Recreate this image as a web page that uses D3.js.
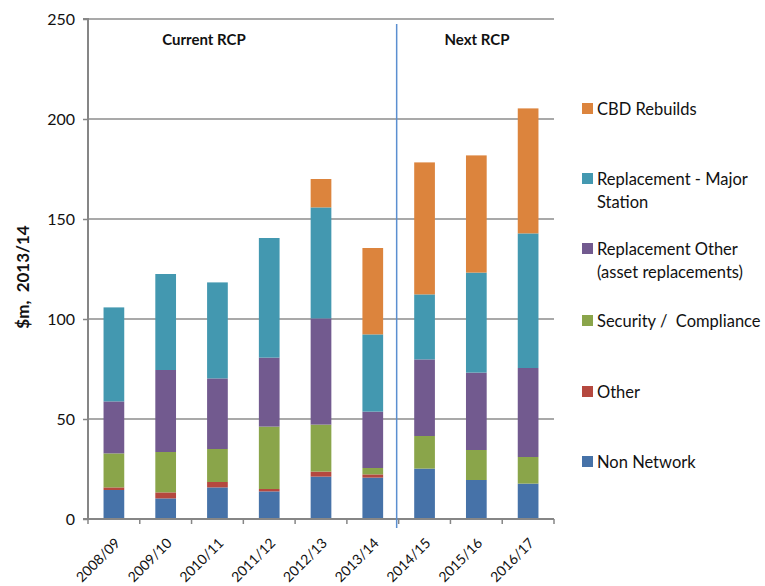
<!DOCTYPE html>
<html>
<head>
<meta charset="utf-8">
<script src="https://cdn.jsdelivr.net/npm/d3@7/dist/d3.min.js"></script>
<style>
  html, body { margin: 0; padding: 0; background: #fff; }
  svg { display: block; font-family: Lato, "Open Sans", sans-serif; }
  text { white-space: pre; }
</style>
</head>
<body>
<svg id="chart" width="765" height="586"></svg>
<script>
// Capital expenditure by category, $m (2013/14 dollars)
const years = ["2008/09", "2009/10", "2010/11", "2011/12", "2012/13", "2013/14", "2014/15", "2015/16", "2016/17"];

const nonNetwork   = [14.5, 10.3, 15.8, 13.8, 21.2, 20.7, 25.2, 19.5, 17.7];
const other        = [1.3, 3.0, 2.7, 1.2, 2.5, 1.6, 0, 0, 0];
const security     = [17.0, 20.2, 16.5, 31.2, 23.5, 3.2, 16.3, 15.0, 13.3];
const replOther    = [26.0, 41.0, 35.3, 34.5, 53.1, 28.2, 38.3, 38.7, 44.5];
const replMajor    = [47.0, 48.0, 48.0, 59.8, 55.5, 38.6, 32.5, 50.0, 67.3];
const cbdRebuilds  = [0, 0, 0, 0, 14.2, 43.2, 66.0, 58.6, 62.5];

const yTicks = [0, 50, 100, 150, 200, 250];

// Stacking order from the axis upwards
const seriesNames = ["Non Network", "Other", "Security / Compliance",
                     "Replacement Other (asset replacements)", "Replacement - Major Station", "CBD Rebuilds"];
const seriesValues = [nonNetwork, other, security, replOther, replMajor, cbdRebuilds];
const seriesColors = ["#4672a8", "#b5483f", "#8aa54a", "#725a8f", "#4398b0", "#dc843d"];

// Legend entries, top to bottom, with their line breaks
const legendLines = [
  ["CBD Rebuilds"],
  ["Replacement - Major", "Station"],
  ["Replacement Other", "(asset replacements)"],
  ["Security /  Compliance"],
  ["Other"],
  ["Non Network"]
];
const legendColors = ["#dc843d", "#4398b0", "#725a8f", "#8aa54a", "#b5483f", "#4672a8"];

const svg = d3.select("#chart");
const margin = { left: 88, right: 211, top: 19, bottom: 67 };
const W = 765, H = 586;

const x = d3.scaleBand().domain(years).range([margin.left, W - margin.right]).paddingInner(0.6).paddingOuter(0.3);
const xb = d3.scaleBand().domain(years).range([margin.left, W - margin.right]);
const y = d3.scaleLinear().domain([0, 250]).range([H - margin.bottom, margin.top]);

const gridColor = "#8c8c8c";

// Horizontal gridlines
svg.append("g")
  .selectAll("line")
  .data(yTicks.filter(d => d > 0))
  .join("line")
  .attr("x1", margin.left).attr("x2", W - margin.right)
  .attr("y1", d => y(d)).attr("y2", d => y(d))
  .attr("stroke", gridColor).attr("stroke-width", 1.5);

// Stacked bars
const table = years.map((yr, i) => {
  const row = { year: yr };
  seriesNames.forEach((n, k) => { row[n] = seriesValues[k][i]; });
  return row;
});
const stack = d3.stack().keys(seriesNames)(table);

svg.append("g")
  .selectAll("g")
  .data(stack)
  .join("g")
  .attr("fill", (d, i) => seriesColors[i])
  .selectAll("rect")
  .data(d => d.filter(s => s[1] - s[0] > 0))
  .join("rect")
  .attr("x", d => x(d.data.year))
  .attr("width", x.bandwidth())
  .attr("y", d => y(d[1]))
  .attr("height", d => y(d[0]) - y(d[1]));

// Y axis
const yAxis = d3.axisLeft(y).tickValues(yTicks).tickSize(5).tickPadding(8);
const gy = svg.append("g").attr("transform", `translate(${margin.left},0)`).call(yAxis);
gy.select(".domain").attr("stroke", "#868686").attr("stroke-width", 2).attr("d", `M-5,${y(250)}H0V${y(0)}`);
gy.selectAll(".tick line").attr("stroke", "#868686").attr("stroke-width", 1.5);
gy.selectAll(".tick text").attr("font-size", 16).attr("fill", "#111").attr("font-family", "Lato, sans-serif");

// X axis: ticks at category boundaries
const gx = svg.append("g").attr("transform", `translate(0,${y(0)})`);
gx.append("line")
  .attr("x1", margin.left - 5).attr("x2", W - margin.right)
  .attr("stroke", "#868686").attr("stroke-width", 2);
const boundaries = years.map(d => xb(d)).concat([xb(years[years.length - 1]) + xb.bandwidth()]);
gx.selectAll(".tk")
  .data(boundaries)
  .join("line")
  .attr("class", "tk")
  .attr("x1", d => d).attr("x2", d => d)
  .attr("y1", 0).attr("y2", 5)
  .attr("stroke", "#868686").attr("stroke-width", 1.5);
gx.selectAll(".lbl")
  .data(years)
  .join("text")
  .attr("class", "lbl")
  .attr("transform", d => `translate(${xb(d) + xb.bandwidth() / 2 + 7},${25}) rotate(-45)`)
  .attr("text-anchor", "end")
  .attr("font-size", 14)
  .attr("fill", "#111")
  .text(d => d);

// Divider between the current and next regulatory periods
const divX = xb("2014/15") - 2;
svg.append("line")
  .attr("x1", divX).attr("x2", divX)
  .attr("y1", 24).attr("y2", y(0) + 9)
  .attr("stroke", "#5b8fd0").attr("stroke-width", 1.5);

// Period labels
svg.append("text").attr("x", 204).attr("y", 45).attr("text-anchor", "middle")
  .attr("font-size", 15).attr("font-weight", "bold").attr("fill", "#111").text("Current RCP");
svg.append("text").attr("x", 477).attr("y", 45).attr("text-anchor", "middle")
  .attr("font-size", 15).attr("font-weight", "bold").attr("fill", "#111").text("Next RCP");

// Y axis title
svg.append("text")
  .attr("transform", "translate(29,277) rotate(-90)")
  .attr("text-anchor", "middle")
  .attr("font-size", 17).attr("font-weight", "bold").attr("fill", "#111")
  .text("$m,  2013/14");

// Legend
const legendY = [108.5, 178.5, 248.5, 320.5, 391.5, 461.5];
const lg = svg.append("g");
legendLines.forEach((lines, i) => {
  lg.append("rect")
    .attr("x", 582).attr("y", legendY[i] - 5.5)
    .attr("width", 11).attr("height", 11)
    .attr("fill", legendColors[i]);
  const t = lg.append("text")
    .attr("x", 597).attr("y", legendY[i] + 6)
    .attr("font-size", 16.5).attr("fill", "#111");
  lines.forEach((ln, j) => {
    t.append("tspan").attr("x", 597).attr("dy", j === 0 ? 0 : 23).text(ln);
  });
});
</script>
</body>
</html>
